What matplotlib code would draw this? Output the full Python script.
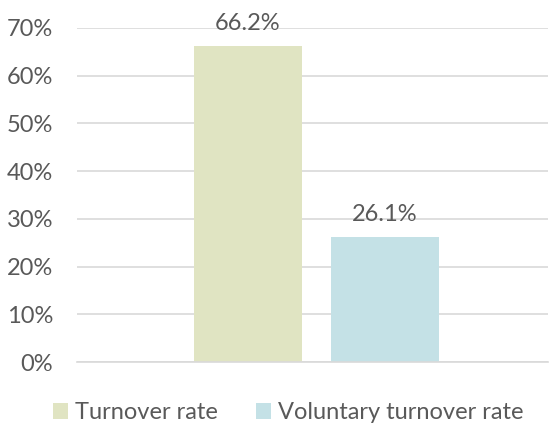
import matplotlib

matplotlib.use("Agg")

import matplotlib.pyplot as plt
from matplotlib.patches import Patch

series = ["Turnover rate", "Voluntary turnover rate"]
rates = [0.662, 0.261]
colors = ["#E0E4C2", "#C4E1E6"]
yticks = [0.0, 0.1, 0.2, 0.3, 0.4, 0.5, 0.6, 0.7]

plt.rcParams["font.family"] = ["Lato", "DejaVu Sans"]
text_color = "#595959"
fs = 17

fig = plt.figure(figsize=(5.51, 4.26), dpi=100)
ax = fig.add_axes([0.1397, 0.1502, 0.8549, 0.7841])

positions = [-0.597, 0.671]
bars = ax.bar(positions, rates, width=1.0, color=colors, zorder=2)
for bar, val in zip(bars, rates):
    ax.annotate(f"{val * 100:.1f}%", (bar.get_x() + bar.get_width() / 2, val),
                xytext=(0, 9), textcoords="offset points",
                ha="center", va="bottom", fontsize=fs, color=text_color)

ax.set_xlim(-2.18, 2.18)
ax.set_ylim(0, 0.7)
ax.set_yticks(yticks)
ax.set_yticklabels([f"{int(round(t * 100))}%" for t in yticks])
ax.tick_params(axis="y", length=0, pad=17, labelsize=fs, labelcolor=text_color)
ax.set_xticks([])
ax.yaxis.grid(True, color="#D9D9D9", linewidth=1.2, zorder=0)
ax.set_axisbelow(True)
for side in ["top", "right", "left"]:
    ax.spines[side].set_visible(False)
ax.spines["bottom"].set_color("#D9D9D9")
ax.spines["bottom"].set_linewidth(1.2)

handles = [Patch(facecolor=c, label=s) for c, s in zip(colors, series)]
fig.legend(handles=handles, loc="lower center", ncol=2, frameon=False,
           bbox_to_anchor=(0.523, -0.044), fontsize=fs, labelcolor=text_color,
           handlelength=0.65, handleheight=0.65, handletextpad=0.3, columnspacing=1.6)

fig.savefig("out.png", dpi=100)
